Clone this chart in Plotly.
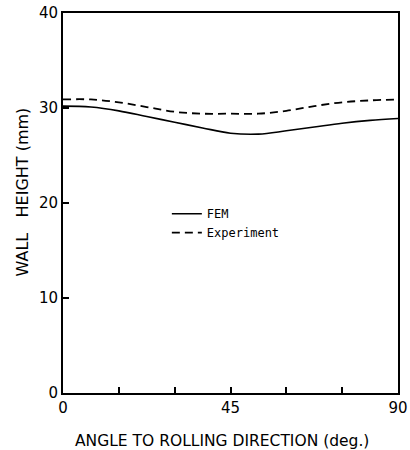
import plotly.graph_objects as go

angle = [0, 7.5, 15, 22.5, 30, 37.5, 45, 52.5, 60, 67.5, 75, 82.5, 90]
fem = [30.2, 30.1, 29.7, 29.1, 28.5, 27.9, 27.35, 27.25, 27.6, 28.0, 28.4, 28.7, 28.9]
experiment = [30.9, 30.9, 30.6, 30.1, 29.6, 29.4, 29.4, 29.4, 29.7, 30.2, 30.6, 30.8, 30.9]

x_ticks = [0, 15, 30, 45, 60, 75, 90]
x_labels = ["0", "", "", "45", "", "", "90"]
y_ticks = [0, 10, 20, 30, 40]
y_labels = ["0", "10", "20", "30", "40"]

fig = go.Figure()
fig.add_trace(go.Scatter(x=angle, y=fem, mode="lines", name="FEM",
                         line=dict(color="black", width=1.6, shape="spline", dash="solid")))
fig.add_trace(go.Scatter(x=angle, y=experiment, mode="lines", name="Experiment",
                         line=dict(color="black", width=1.8, shape="spline", dash="8px,5px")))

fig.update_layout(
    width=410, height=450,
    margin=dict(l=63, r=12, t=13, b=57, autoexpand=False),
    paper_bgcolor="white", plot_bgcolor="white",
    font=dict(family="DejaVu Sans", color="black", size=15),
    showlegend=True,
    legend=dict(x=0.31, y=0.51, xanchor="left", yanchor="top",
                bgcolor="rgba(0,0,0,0)", font=dict(family="DejaVu Sans Mono", size=12),
                tracegroupgap=0, itemwidth=30),
    xaxis=dict(range=[0, 90], tickvals=x_ticks, ticktext=x_labels, automargin=False,
               ticks="inside", ticklen=6, tickwidth=1.5, tickcolor="black",
               showline=True, linecolor="black", linewidth=2, mirror=True,
               showgrid=False, zeroline=False, tickfont=dict(size=15),
               ticklabeloverflow="allow"),
    yaxis=dict(range=[0, 40], tickvals=y_ticks, ticktext=y_labels, automargin=False,
               ticks="inside", ticklen=6, tickwidth=1.5, tickcolor="black",
               showline=True, linecolor="black", linewidth=2, mirror=True,
               showgrid=False, zeroline=False, tickfont=dict(size=15),
               ticklabeloverflow="allow"),
    annotations=[
        dict(text="ANGLE TO ROLLING DIRECTION (deg.)", xref="paper", yref="paper",
             x=0.475, y=-0.125, xanchor="center", yanchor="middle", showarrow=False,
             font=dict(size=15.5)),
        dict(text="WALL\u00a0\u00a0\u00a0HEIGHT (mm)", xref="paper", yref="paper",
             x=-0.118, y=0.529, xanchor="center", yanchor="middle", showarrow=False,
             textangle=-90, font=dict(size=16)),
    ],
)

fig.write_html("out.html", config={"displayModeBar": False},
               post_script="document.body.style.margin='0';document.body.style.overflow='hidden';")
